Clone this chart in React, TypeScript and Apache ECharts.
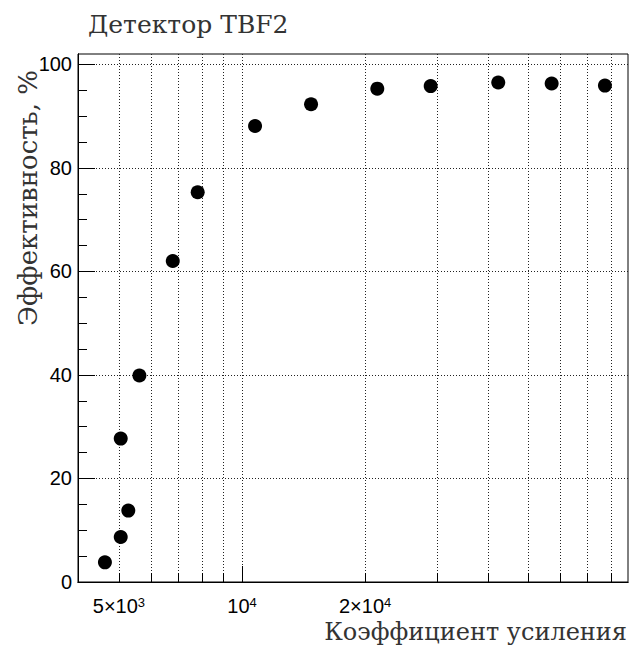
import React, { useEffect, useRef } from "react";
import * as echarts from "echarts";

// Gain (x, log scale) and efficiency in % (y)
const gain = [4620, 5050, 5050, 5270, 5610, 6770, 7790, 10760, 14750, 21420, 28930, 42330, 57180, 77190];
const efficiency = [3.8, 8.7, 27.7, 13.8, 39.9, 62.0, 75.3, 88.1, 92.3, 95.3, 95.8, 96.5, 96.3, 95.9];

const xMinorTicks = [5000, 6000, 7000, 8000, 9000, 10000, 20000, 30000, 40000, 50000, 60000, 70000, 80000];
const xMajorTicks = [10000];
const xLabelValues = [5000, 10000, 20000];
const xLabelTexts = ["5×10{sup|3}", "10{sup|4}", "2×10{sup|4}"];
const yMajorTicks = [0, 20, 40, 60, 80, 100];
const yMinorTicks = [5, 10, 15, 25, 30, 35, 45, 50, 55, 65, 70, 75, 85, 90, 95];

const titleText = "Детектор TBF2";
const xTitle = "Коэффициент усиления";
const yTitle = "Эффективность, %";

const X_MIN = 3970;
const X_MAX = 87900;
const Y_MIN = 0;
const Y_MAX = 102;

const SANS = "Liberation Sans";
const SERIF = "DejaVu Serif";

export default function App() {
  const ref = useRef<HTMLDivElement>(null);

  useEffect(() => {
    if (!ref.current) return;
    const chart = echarts.init(ref.current, null, { renderer: "svg" });

    const gridLine = { show: true, lineStyle: { color: "#222", width: 1, type: [1, 2] as any } };

    const baseX = {
      type: "log" as const,
      logBase: 10,
      min: X_MIN,
      max: X_MAX,
      gridIndex: 0,
      position: "bottom" as const,
      axisLine: { show: true, onZero: false, lineStyle: { color: "#000", width: 1 } },
    };
    const baseY = {
      type: "value" as const,
      min: Y_MIN,
      max: Y_MAX,
      gridIndex: 0,
      position: "left" as const,
      axisLine: { show: true, onZero: false, lineStyle: { color: "#000", width: 1 } },
    };

    const serifText = (size: number) => ({
      fontFamily: SERIF,
      fontSize: size,
      fill: "#333",
    });

    chart.setOption({
      animation: false,
      backgroundColor: "#fff",
      grid: {
        left: 78,
        right: 2,
        top: 54,
        bottom: 64,
        show: true,
        borderColor: "#000",
        borderWidth: 1,
        backgroundColor: "transparent",
      },
      xAxis: [
        {
          ...baseX,
          axisTick: { show: true, inside: true, length: 9, customValues: xMinorTicks, lineStyle: { color: "#000" } },
          axisLabel: { show: false },
          splitLine: gridLine,
          minorTick: { show: false },
          minorSplitLine: { show: false },
        },
        {
          ...baseX,
          axisTick: { show: true, inside: true, length: 16, customValues: xMajorTicks, lineStyle: { color: "#000" } },
          axisLabel: {
            show: true,
            customValues: xLabelValues,
            margin: 14,
            color: "#000",
            fontFamily: SANS,
            fontSize: 20,
            formatter: (v: number) => {
              const i = xLabelValues.indexOf(v);
              return i >= 0 ? xLabelTexts[i] : "";
            },
            rich: {
              sup: { fontSize: 13, fontFamily: SANS, color: "#000", verticalAlign: "top", lineHeight: 18, padding: [0, 0, 5, 0] },
            },
            lineHeight: 20,
          },
          splitLine: { show: false },
        },
      ],
      yAxis: [
        {
          ...baseY,
          axisTick: { show: true, inside: true, length: 17, customValues: yMajorTicks, lineStyle: { color: "#000" } },
          axisLabel: {
            show: true,
            customValues: yMajorTicks,
            margin: 6,
            color: "#000",
            fontFamily: SANS,
            fontSize: 20,
          },
          splitLine: { ...gridLine },
        },
        {
          ...baseY,
          axisTick: { show: true, inside: true, length: 9, customValues: yMinorTicks, lineStyle: { color: "#000" } },
          axisLabel: { show: false },
          splitLine: { show: false },
        },
      ],
      graphic: [
        {
          type: "text",
          x: 88,
          y: 24,
          style: { text: titleText, ...serifText(25), align: "left", verticalAlign: "middle" },
        },
        {
          type: "text",
          x: 627,
          y: 632,
          style: { text: xTitle, ...serifText(24), align: "right", verticalAlign: "middle" },
        },
        {
          type: "text",
          x: 28,
          y: 70,
          rotation: Math.PI / 2,
          style: { text: yTitle, ...serifText(26), align: "right", verticalAlign: "middle" },
        },
      ],
      series: [
        {
          type: "scatter",
          xAxisIndex: 0,
          yAxisIndex: 0,
          symbol: "circle",
          symbolSize: 14,
          itemStyle: { color: "#000", opacity: 1 },
          data: gain.map((g, i) => [g, efficiency[i]]),
        },
      ],
    });

    return () => chart.dispose();
  }, []);

  return (
    <div
      ref={ref}
      style={{ position: "fixed", left: 0, top: 0, width: 630, height: 646, background: "#fff" }}
    />
  );
}
